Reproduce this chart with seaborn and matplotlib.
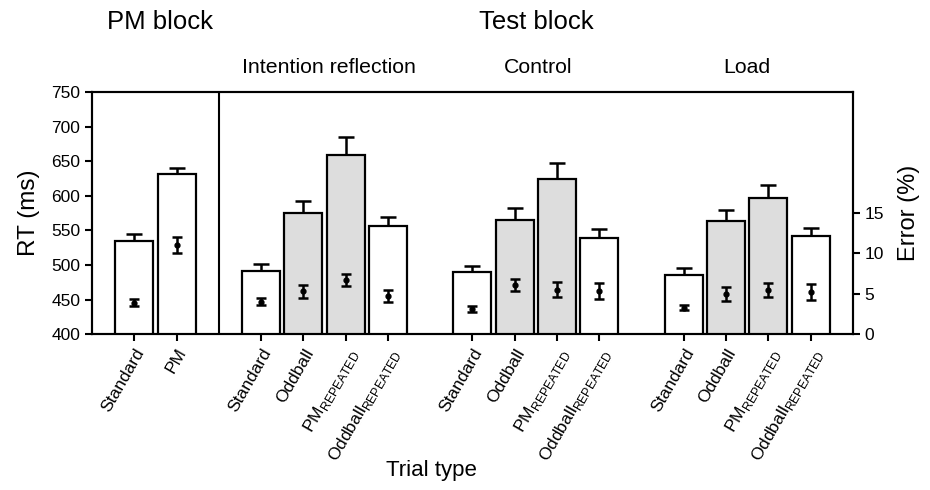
import numpy as np
import pandas as pd
import matplotlib
matplotlib.use('Agg')
import matplotlib.pyplot as plt
import seaborn as sns

# Trial types (PM block: 2, Test block: 3 conditions x 4)
sub = r'$_{\mathregular{REPEATED}}$'
labels = ['Standard', 'PM',
          'Standard', 'Oddball', 'PM' + sub, 'Oddball' + sub,
          'Standard', 'Oddball', 'PM' + sub, 'Oddball' + sub,
          'Standard', 'Oddball', 'PM' + sub, 'Oddball' + sub]
positions = [0, 1, 3, 4, 5, 6, 8, 9, 10, 11, 13, 14, 15, 16]
shade = ['white', 'white',
         'white', 'gray', 'gray', 'white',
         'white', 'gray', 'gray', 'white',
         'white', 'gray', 'gray', 'white']

# RT means and SE (ms)
rt = [535, 631, 491, 575, 659, 556, 490, 565, 625, 539, 486, 564, 597, 542]
rt_se = [10, 9, 10, 17, 26, 13, 9, 17, 22, 13, 9, 15, 18, 12]

# Error rates and SE (%)
err = [3.9, 11.1, 4.0, 5.3, 6.7, 4.7, 3.1, 6.1, 5.5, 5.4, 3.3, 5.0, 5.5, 5.2]
err_se = [0.4, 1.0, 0.43, 0.85, 0.74, 0.74, 0.35, 0.8, 0.95, 1.0, 0.31, 0.9, 0.87, 1.0]

df = pd.DataFrame({'pos': positions, 'rt': rt, 'shade': shade})

sns.set_style('ticks')
plt.rcParams['font.family'] = ['Liberation Sans', 'DejaVu Sans']
plt.rcParams['mathtext.fontset'] = 'custom'
plt.rcParams['mathtext.rm'] = 'Liberation Sans'
for k in ['text.color', 'axes.labelcolor', 'xtick.color', 'ytick.color', 'axes.edgecolor']:
    plt.rcParams[k] = 'black'

fig = plt.figure(figsize=(9.3, 4.9), dpi=100)
ax = fig.add_axes([0.099, 0.318, 0.818, 0.494])

sns.barplot(data=df, x='pos', y='rt', hue='shade', native_scale=True,
            palette={'white': 'white', 'gray': '#dddddd'}, width=0.9,
            edgecolor='black', linewidth=1.6, legend=False, ax=ax, zorder=2)

# upper-only RT error bars
ax.errorbar(positions, rt, yerr=[np.zeros(len(rt)), rt_se], fmt='none',
            ecolor='black', elinewidth=1.8, capsize=6, capthick=1.8, zorder=1)

ax.set_xlim(-1, 17)
ax.set_ylim(400, 750)
ax.set_yticks(range(400, 751, 50))
ax.set_xticks(positions)
ax.set_xticklabels(labels, rotation=60, ha='right', rotation_mode='anchor')
ax.set_xlabel('')
ax.set_ylabel('RT (ms)', fontsize=17.5, labelpad=8)
ax.axvline(2, color='black', lw=1.5)
for s in ax.spines.values():
    s.set_visible(True)
    s.set_linewidth(1.5)
ax.tick_params(axis='both', labelsize=12.5, width=1.5, length=5, direction='out')

# error rates on the right axis
ax2 = ax.twinx()
ax2.errorbar(positions, err, yerr=err_se, fmt='o', color='black', ms=3.5,
             elinewidth=1.8, capsize=3.5, capthick=1.8)
ax2.set_ylim(0, 30)
ax2.set_yticks([0, 5, 10, 15])
ax2.set_ylabel('Error (%)', fontsize=17, labelpad=10)
ax2.tick_params(axis='y', labelsize=12.5, width=1.5, length=5)
for s in ax2.spines.values():
    s.set_linewidth(1.5)

tr = ax.get_xaxis_transform()
ax.text(0.6, 1.29, 'PM block', transform=tr, ha='center', va='center', fontsize=18.5)
ax.text(9.5, 1.29, 'Test block', transform=tr, ha='center', va='center', fontsize=18.5)
ax.text(4.6, 1.10, 'Intention reflection', transform=tr, ha='center', va='center', fontsize=15.3)
ax.text(9.55, 1.10, 'Control', transform=tr, ha='center', va='center', fontsize=15.3)
ax.text(14.5, 1.10, 'Load', transform=tr, ha='center', va='center', fontsize=15.3)

fig.text(0.464, 0.04, 'Trial type', ha='center', va='center', fontsize=16)

fig.savefig('out.png', dpi=100)
